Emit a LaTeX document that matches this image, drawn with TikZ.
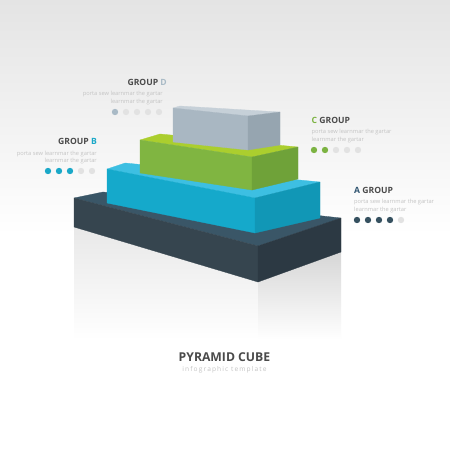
\documentclass[tikz,border=0pt]{standalone}
\usepackage{fontspec}
\setmainfont{Open Sans}
\definecolor{bgtop}{HTML}{E4E4E4}
\definecolor{gyF}{HTML}{A9B7C2}\definecolor{gyR}{HTML}{96A5B0}\definecolor{gyT}{HTML}{C6D0D8}
\definecolor{grF}{HTML}{80B541}\definecolor{grR}{HTML}{6FA239}\definecolor{grT}{HTML}{ABCE2E}
\definecolor{cyF}{HTML}{15A9CB}\definecolor{cyR}{HTML}{1197B6}\definecolor{cyT}{HTML}{3DBFE2}
\definecolor{dkF}{HTML}{36454F}\definecolor{dkR}{HTML}{2C3943}\definecolor{dkT}{HTML}{3A5667}
\definecolor{titlec}{HTML}{4A4A4A}
\definecolor{subc}{HTML}{C4C4C4}
\definecolor{dotoff}{HTML}{E2E2E2}
\definecolor{dcol}{HTML}{A9BAC6}
\definecolor{bcol}{HTML}{1AA8C8}
\definecolor{ccol}{HTML}{7CB342}
\definecolor{acol}{HTML}{2F5470}
\definecolor{adot}{HTML}{35505F}
\begin{document}
\begin{tikzpicture}[x=1pt,y=-1pt,
  grouptitle/.style={inner sep=0pt,font=\fontsize{8.6}{9}\selectfont\bfseries,text=titlec},
  subtext/.style={inner sep=0pt,font=\fontsize{5.7}{6}\selectfont,text=subc},
  face/.style={fill=#1,draw=#1,line width=0.3pt,line join=round}]
\useasboundingbox (0,0) rectangle (450,450);
\fill[white] (0,0) rectangle (450,450);
\shade[top color=bgtop,bottom color=white] (0,0) rectangle (450,235);
% reflection
\shade[top color=black!9,bottom color=white] (74,227) -- (258,282) -- (258,340) -- (74,340) -- cycle;
\shade[top color=black!16,bottom color=white] (258,282) -- (341,252) -- (341,340) -- (258,340) -- cycle;
% dark box
\path[face=dkT] (74,198) -- (103,192) -- (341,218) -- (258,246) -- cycle;
\path[face=dkF] (74,198) -- (258,246) -- (258,282) -- (74,227) -- cycle;
\path[face=dkR] (258,246) -- (341,218) -- (341,252) -- (258,282) -- cycle;
% cyan box
\path[face=cyT] (107,169) -- (125,163) -- (320,182) -- (255,198) -- cycle;
\path[face=cyF] (107,169) -- (255,198) -- (255,233) -- (107,203) -- cycle;
\path[face=cyR] (255,198) -- (320,182) -- (320,218) -- (255,233) -- cycle;
% green box
\path[face=grT] (140,140) -- (160,134) -- (298,147) -- (252,157) -- cycle;
\path[face=grF] (140,140) -- (252,157) -- (252,190) -- (140,173) -- cycle;
\path[face=grR] (252,157) -- (298,147) -- (298,179) -- (252,190) -- cycle;
% gray box
\path[face=gyT] (173,108) -- (180,106) -- (280,112) -- (248,116) -- cycle;
\path[face=gyF] (173,108) -- (248,116) -- (248,150) -- (173,142) -- cycle;
\path[face=gyR] (248,116) -- (280,112) -- (280,145) -- (248,150) -- cycle;
% GROUP D
\node[grouptitle,anchor=base east] (dT) at (167,85) {GROUP \textcolor{dcol}{D}};
\node[subtext,anchor=base east] (dS1) at (163,95) {porta sew learnmar the gartar};
\node[subtext,anchor=base east] (dS2) at (163,103.5) {learnmar the gartar};
\fill[dcol] (115,112) circle (3.2);
\foreach \x in {126,137,148,159} \fill[dotoff] (\x,112) circle (3.2);
% GROUP B
\node[grouptitle,anchor=base east] (bT) at (97,144.3) {GROUP \textcolor{bcol}{B}};
\node[subtext,anchor=base east] (bS1) at (97,155) {porta sew learnmar the gartar};
\node[subtext,anchor=base east] (bS2) at (97,162) {learnmar the gartar};
\foreach \x in {48,59,70} \fill[bcol] (\x,171) circle (3.2);
\foreach \x in {81,92} \fill[dotoff] (\x,171) circle (3.2);
% C GROUP
\node[grouptitle,anchor=base west] (cT) at (311.5,123.3) {\textcolor{ccol}{C} GROUP};
\node[subtext,anchor=base west] (cS1) at (311.5,133) {porta sew learnmar the gartar};
\node[subtext,anchor=base west] (cS2) at (311.5,141) {learnmar the gartar};
\foreach \x in {314,325} \fill[ccol] (\x,150) circle (3.2);
\foreach \x in {336,347,358} \fill[dotoff] (\x,150) circle (3.2);
% A GROUP
\node[grouptitle,anchor=base west] (aT) at (354,193.3) {\textcolor{acol}{A} GROUP};
\node[subtext,anchor=base west] (aS1) at (354,203) {porta sew learnmar the gartar};
\node[subtext,anchor=base west] (aS2) at (354,211) {learnmar the gartar};
\foreach \x in {357,368,379,390} \fill[adot] (\x,220) circle (3.2);
\fill[dotoff] (401,220) circle (3.2);
% title
\node[inner sep=0pt,anchor=base,font=\fontsize{12.2}{13}\selectfont\bfseries,text=titlec] (title) at (224.5,361) {PYRAMID CUBE};
\node[inner sep=0pt,anchor=base,font=\fontsize{6.6}{7}\selectfont\addfontfeatures{LetterSpace=17},text=subc] (subtitle) at (224.5,371) {infographic template};
\end{tikzpicture}
\end{document}
